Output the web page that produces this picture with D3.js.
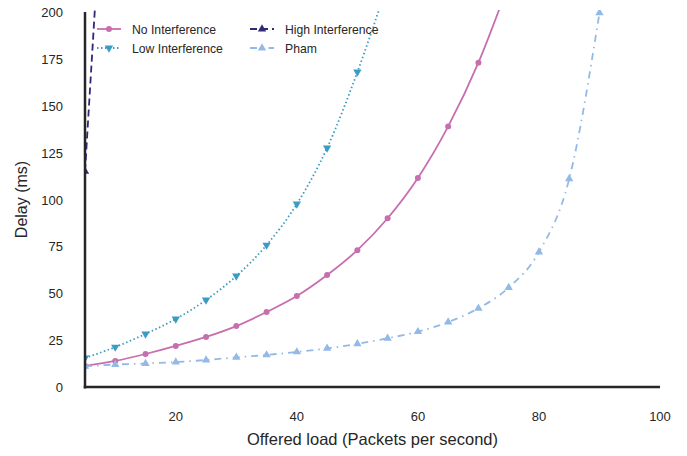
<!DOCTYPE html>
<html>
<head>
<meta charset="UTF-8">
<style>
  body { margin: 0; background: #fff; }
  text { font-family: "Liberation Sans", Arial, sans-serif; fill: #262626; }
</style>
</head>
<body>
<svg></svg>
<script src="https://d3js.org/d3.v7.min.js"></script>
<script>
const width = 687, height = 456;

// offered load values (packets per second)
const loads = [5, 10, 15, 20, 25, 30, 35, 40, 45, 50, 55, 60, 65, 70, 75, 80, 85, 90];

// delay (ms) per series
const noInterference = [11.2, 13.9, 17.6, 21.9, 26.7, 32.5, 40, 48.5, 59.7, 73, 90, 111.5, 139, 173, 215];
const lowInterference = [15.5, 21.3, 28.3, 36.3, 46.4, 59.2, 75.7, 97.6, 127.5, 168, 215];
const highInterference = [115, 380];
const pham = [11, 12, 12.5, 13.3, 14.4, 15.8, 17.1, 18.7, 20.6, 23, 26, 29.5, 34.6, 42, 53, 72, 111, 199.5];

const xTicks = [20, 40, 60, 80, 100];
const yTicks = [0, 25, 50, 75, 100, 125, 150, 175, 200];

const series = [
  {name: "No Interference", values: noInterference, color: "#c76fae", dash: null, marker: "circle"},
  {name: "Low Interference", values: lowInterference, color: "#3a9bc4", dash: "1.5,2.5", marker: "down"},
  {name: "High Interference", values: highInterference, color: "#2f2a78", dash: "7,4", marker: "up"},
  {name: "Pham", values: pham, color: "#94b9e6", dash: "7,5,1.5,5", marker: "up"}
];

const margin = {left: 85, right: 27, top: 12, bottom: 69};

const svg = d3.select("svg").attr("width", width).attr("height", height);

const x = d3.scaleLinear().domain([5, 100]).range([margin.left, width - margin.right]);
const y = d3.scaleLinear().domain([0, 200]).range([height - margin.bottom, margin.top]);

svg.append("defs").append("clipPath").attr("id", "plot")
  .append("rect")
  .attr("x", margin.left).attr("y", margin.top - 2)
  .attr("width", width - margin.left - margin.right)
  .attr("height", height - margin.top - margin.bottom + 2);

// tick labels
svg.append("g").selectAll("text").data(xTicks).enter().append("text")
  .attr("x", d => x(d)).attr("y", height - margin.bottom + 34)
  .attr("text-anchor", "middle").style("font-size", "13px")
  .text(d => d);

svg.append("g").selectAll("text").data(yTicks).enter().append("text")
  .attr("x", margin.left - 22).attr("y", d => y(d) + 5)
  .attr("text-anchor", "end").style("font-size", "13px")
  .text(d => d);

// axis titles
svg.append("text")
  .attr("x", (margin.left + width - margin.right) / 2).attr("y", height - 11)
  .attr("text-anchor", "middle").style("font-size", "16.5px")
  .text("Offered load (Packets per second)");

svg.append("text")
  .attr("transform", "translate(27," + (y(100)) + ") rotate(-90)")
  .attr("text-anchor", "middle").style("font-size", "16px")
  .text("Delay (ms)");

function markerPath(type, size) {
  if (type === "circle") return d3.symbol(d3.symbolCircle, size)();
  return d3.symbol(d3.symbolTriangle, size)();
}

const plot = svg.append("g").attr("clip-path", "url(#plot)");

const line = d3.line()
  .x((d, i) => x(loads[i])).y(d => y(d))
  .curve(d3.curveMonotoneX);

series.forEach(s => {
  plot.append("path")
    .attr("d", line(s.values))
    .attr("fill", "none")
    .attr("stroke", s.color)
    .attr("stroke-width", 1.8)
    .attr("stroke-dasharray", s.dash);

  plot.append("g").selectAll("path").data(s.values).enter().append("path")
    .attr("d", markerPath(s.marker, s.marker === "circle" ? 28 : 30))
    .attr("transform", (d, i) => "translate(" + x(loads[i]) + "," + y(d) + ")" + (s.marker === "down" ? " rotate(180)" : ""))
    .attr("fill", s.color);
});

// spines
svg.append("line")
  .attr("x1", margin.left).attr("x2", margin.left)
  .attr("y1", margin.top).attr("y2", height - margin.bottom + 1.5)
  .attr("stroke", "#262626").attr("stroke-width", 2.5);
svg.append("line")
  .attr("x1", margin.left - 1.25).attr("x2", width - margin.right)
  .attr("y1", height - margin.bottom).attr("y2", height - margin.bottom)
  .attr("stroke", "#262626").attr("stroke-width", 2.5);

// legend
const legend = svg.append("g");
const legendPos = [[97, 29], [97, 48], [250, 29], [250, 48]];
series.forEach((s, i) => {
  const [lx, ly] = legendPos[i];
  const g = legend.append("g").attr("transform", "translate(" + lx + "," + ly + ")");
  g.append("line").attr("x1", 0).attr("x2", 24).attr("y1", 0).attr("y2", 0)
    .attr("stroke", s.color).attr("stroke-width", 1.8)
    .attr("stroke-dasharray", s.dash);
  g.append("path")
    .attr("d", markerPath(s.marker, s.marker === "circle" ? 28 : 30))
    .attr("transform", "translate(12,0)" + (s.marker === "down" ? " rotate(180)" : ""))
    .attr("fill", s.color);
  g.append("text").attr("x", 35).attr("y", 4.5)
    .style("font-size", "12.2px").text(s.name);
});
</script>
</body>
</html>
